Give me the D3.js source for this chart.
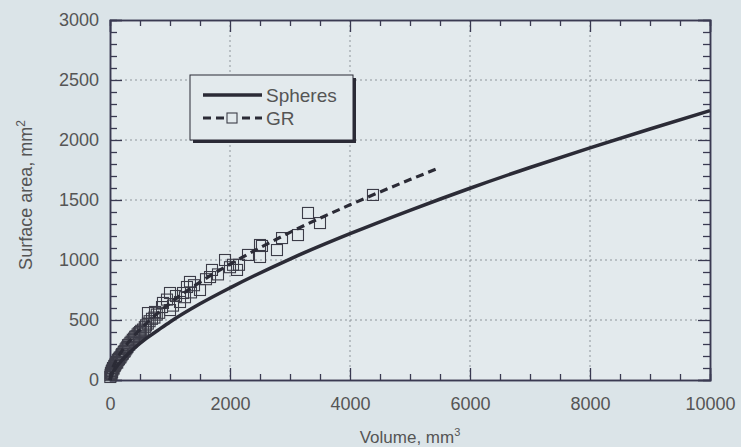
<!DOCTYPE html>
<html>
<head>
<meta charset="utf-8">
<script src="https://cdn.jsdelivr.net/npm/d3@7"></script>
<style>
  body { margin: 0; background: #dbe4e8; }
  text { font-family: "Liberation Sans", Arial, sans-serif; }
</style>
</head>
<body>
<div id="chart"></div>
<script>
// Data

// Spheres curve (volume mm3, surface area mm2)
const sphereVolume = [0, 50, 100, 200, 400, 600, 800, 1000, 1500, 2000, 3000, 4000, 5000, 6000, 7000, 8000, 9000, 10000];
const sphereArea   = [0, 66, 104, 165, 263, 345, 415, 484, 635, 768, 1008, 1219, 1414, 1598, 1771, 1935, 2092, 2245];

// GR fitted (dashed) line
const grLineVolume = [0, 20, 50, 100, 200, 400, 700, 1000, 1500, 2000, 3000, 4000, 5000, 5500];
const grLineArea   = [0, 60, 106, 160, 243, 367, 515, 640, 815, 965, 1230, 1460, 1670, 1770];

// GR measured points (squares)
const grPointVolume = [5, 10, 15, 25, 35, 20, 30, 40, 50, 60, 70, 80, 90, 100, 110, 120, 130, 140, 150, 160,
  175, 190, 200, 215, 230, 245, 260, 275, 290, 300, 320, 340, 360, 380, 400, 420, 440, 460, 480, 500,
  520, 550, 580, 600, 630, 660, 700, 740, 780, 820,
  633, 867, 750, 883, 1000, 1000, 1167, 1217, 1283, 1333, 1500, 1667, 1700, 1917, 2117, 2050, 2300,
  2500, 2500, 2533, 2783, 2867, 3133, 3300, 3500, 4383,
  1100, 1400, 1600, 1800, 2000, 2150, 1250, 950, 1050, 1350];
const grPointArea = [25, 40, 55, 50, 65, 60, 75, 85, 100, 95, 115, 120, 130, 140, 150, 145, 165, 170, 175, 185,
  190, 205, 215, 220, 235, 240, 255, 265, 275, 290, 295, 310, 320, 335, 345, 360, 365, 380, 390, 400,
  410, 420, 440, 455, 470, 490, 510, 520, 545, 560,
  558, 608, 567, 642, 583, 725, 650, 725, 775, 817, 750, 858, 917, 1000, 917, 960, 1042,
  1125, 1025, 1117, 1083, 1183, 1208, 1392, 1308, 1542,
  700, 790, 840, 880, 940, 960, 690, 670, 620, 730];

const xTicks = [0, 2000, 4000, 6000, 8000, 10000];
const yTicks = [0, 500, 1000, 1500, 2000, 2500, 3000];

const legendItems = [
  { text: "Spheres", dashed: false },
  { text: "GR", dashed: true }
];

///////////////////////////////////////////////////////////////////////////////
//// Set up ///////////////////////////////////////////////////////////////////
///////////////////////////////////////////////////////////////////////////////

const width = 741,
      height = 447;
const margin = { top: 20, right: 31, bottom: 67, left: 110 };
const innerW = width - margin.left - margin.right,
      innerH = height - margin.top - margin.bottom;

const axisColor = "#3a3a52",
      labelColor = "#555",
      lineColor = "#2b2b36";

const svg = d3.select("#chart").append("svg")
    .attr("width", width)
    .attr("height", height);

svg.append("rect")
    .attr("width", width)
    .attr("height", height)
    .attr("fill", "#dbe4e8");

const g = svg.append("g")
    .attr("transform", `translate(${margin.left},${margin.top})`);

const x = d3.scaleLinear().domain([0, 10000]).range([0, innerW]);
const y = d3.scaleLinear().domain([0, 3000]).range([innerH, 0]);

g.append("rect")
    .attr("width", innerW)
    .attr("height", innerH)
    .attr("fill", "#e3eaed");

// Grid
g.append("g").selectAll("line")
  .data(xTicks.slice(1, -1))
  .enter().append("line")
    .attr("x1", d => x(d)).attr("x2", d => x(d))
    .attr("y1", 0).attr("y2", innerH)
    .attr("stroke", "#8f969c")
    .attr("stroke-width", 1)
    .attr("stroke-dasharray", "2,3");
g.append("g").selectAll("line")
  .data(yTicks.slice(1, -1))
  .enter().append("line")
    .attr("y1", d => y(d)).attr("y2", d => y(d))
    .attr("x1", 0).attr("x2", innerW)
    .attr("stroke", "#8f969c")
    .attr("stroke-width", 1)
    .attr("stroke-dasharray", "2,3");

// Axes with inward ticks on all four sides
function styleAxis(sel) {
  sel.select(".domain").attr("stroke", axisColor).attr("stroke-width", 1.5);
  sel.selectAll(".tick line").attr("stroke", axisColor).attr("stroke-width", 1.3);
  sel.selectAll("text")
      .attr("fill", labelColor)
      .style("font-size", "18px");
}

const xMinor = d3.range(0, 10001, 500).filter(d => d % 2000 !== 0);
const yMinor = d3.range(0, 3001, 100).filter(d => d % 500 !== 0);

// bottom
g.append("g")
    .attr("transform", `translate(0,${innerH})`)
    .call(d3.axisBottom(x).tickValues(xTicks).tickSize(-12).tickPadding(17).tickFormat(d3.format("d")))
    .call(styleAxis);
g.append("g")
    .attr("transform", `translate(0,${innerH})`)
    .call(d3.axisBottom(x).tickValues(xMinor).tickSize(-6).tickFormat(""))
    .call(styleAxis);
// top
g.append("g")
    .call(d3.axisTop(x).tickValues(xTicks).tickSize(-12).tickFormat(""))
    .call(styleAxis);
g.append("g")
    .call(d3.axisTop(x).tickValues(xMinor).tickSize(-6).tickFormat(""))
    .call(styleAxis);
// left
g.append("g")
    .call(d3.axisLeft(y).tickValues(yTicks).tickSize(-12).tickPadding(11).tickFormat(d3.format("d")))
    .call(styleAxis);
g.append("g")
    .call(d3.axisLeft(y).tickValues(yMinor).tickSize(-7).tickFormat(""))
    .call(styleAxis);
// right
g.append("g")
    .attr("transform", `translate(${innerW},0)`)
    .call(d3.axisRight(y).tickValues(yTicks).tickSize(-12).tickFormat(""))
    .call(styleAxis);
g.append("g")
    .attr("transform", `translate(${innerW},0)`)
    .call(d3.axisRight(y).tickValues(yMinor).tickSize(-7).tickFormat(""))
    .call(styleAxis);

// Axis titles
const xTitle = svg.append("text")
    .attr("x", margin.left + innerW / 2)
    .attr("y", 443)
    .attr("text-anchor", "middle")
    .attr("fill", labelColor)
    .style("font-size", "17px");
xTitle.append("tspan").text("Volume, mm");
xTitle.append("tspan").attr("dy", -7).style("font-size", "11px").text("3");

const yTitle = svg.append("text")
    .attr("transform", `translate(32,${margin.top + innerH / 2 - 5}) rotate(-90)`)
    .attr("text-anchor", "middle")
    .attr("fill", labelColor)
    .style("font-size", "18px");
yTitle.append("tspan").text("Surface area, mm");
yTitle.append("tspan").attr("dy", -7).style("font-size", "12px").text("2");

///////////////////////////////////////////////////////////////////////////////
//// Series ///////////////////////////////////////////////////////////////////
///////////////////////////////////////////////////////////////////////////////

const line = d3.line()
    .x(d => x(d[0]))
    .y(d => y(d[1]))
    .curve(d3.curveMonotoneX);

const squareSize = 11;
g.append("g").selectAll("rect")
  .data(d3.zip(grPointVolume, grPointArea))
  .enter().append("rect")
    .attr("x", d => x(d[0]) - squareSize / 2)
    .attr("y", d => y(d[1]) - squareSize / 2)
    .attr("width", squareSize)
    .attr("height", squareSize)
    .attr("fill", "none")
    .attr("stroke", "#3c3c48")
    .attr("stroke-width", 1.1);

g.append("path")
    .datum(d3.zip(grLineVolume, grLineArea))
    .attr("d", line)
    .attr("fill", "none")
    .attr("stroke", lineColor)
    .attr("stroke-width", 3.2)
    .attr("stroke-dasharray", "8,5");

g.append("path")
    .datum(d3.zip(sphereVolume, sphereArea))
    .attr("d", line)
    .attr("fill", "none")
    .attr("stroke", lineColor)
    .attr("stroke-width", 3.5);

///////////////////////////////////////////////////////////////////////////////
//// Legend ///////////////////////////////////////////////////////////////////
///////////////////////////////////////////////////////////////////////////////

const legend = svg.append("g")
    .attr("transform", "translate(190,75)");
legend.append("rect")
    .attr("x", 3).attr("y", 3)
    .attr("width", 163).attr("height", 65)
    .attr("fill", "#2b2b36");
legend.append("rect")
    .attr("width", 163).attr("height", 65)
    .attr("fill", "#e3eaed")
    .attr("stroke", "#2b2b36")
    .attr("stroke-width", 1);

const legendRow = legend.selectAll(".row")
  .data(legendItems)
  .enter().append("g")
    .attr("class", "row")
    .attr("transform", (d, i) => `translate(0,${20 + i * 23})`);
legendRow.append("line")
    .attr("x1", 13).attr("x2", 72)
    .attr("stroke", lineColor)
    .attr("stroke-width", d => d.dashed ? 3 : 3.5)
    .attr("stroke-dasharray", d => d.dashed ? "8,5" : null);
legendRow.filter(d => d.dashed).append("rect")
    .attr("x", 42 - 5).attr("y", -5)
    .attr("width", 10).attr("height", 10)
    .attr("fill", "#e3eaed")
    .attr("stroke", "#3c3c48")
    .attr("stroke-width", 1.1);
legendRow.append("text")
    .attr("x", 76)
    .attr("dy", "0.36em")
    .attr("fill", labelColor)
    .style("font-size", "19px")
    .text(d => d.text);
</script>
</body>
</html>
